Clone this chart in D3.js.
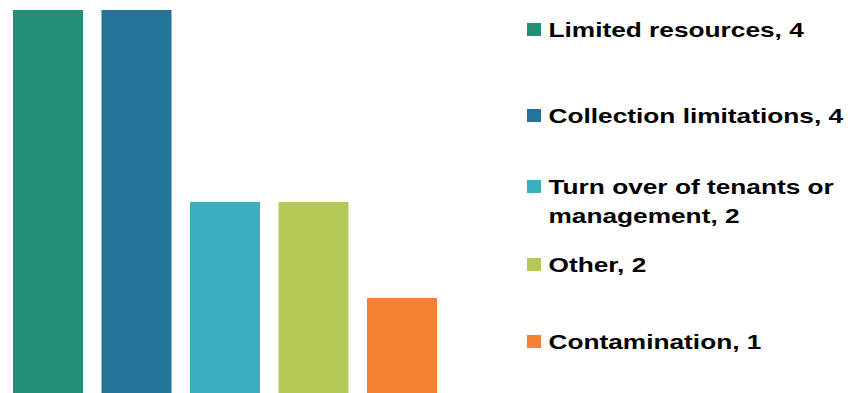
<!DOCTYPE html>
<html lang="en">
<head>
    <meta charset="UTF-8">
    <script src="https://d3js.org/d3.v7.min.js"></script>
    <title>Barriers</title>
    <style>
      body { margin: 0; background: #fff; }
      svg { display: block; }
      .legend text { font-family: "Liberation Sans", Arial, sans-serif; font-weight: bold; font-size: 21px; fill: #000; }
    </style>
</head>
<body>
    <script>
    // chart data
    var categories = ["Limited resources", "Collection limitations", "Turn over of tenants or management", "Other", "Contamination"]
    var values = [4, 4, 2, 2, 1]
    var colors = ["#238f77", "#237498", "#3aafbd", "#b3cb56", "#f58233"]
    // legend text is wrapped like the original
    var legendLines = [
        ["Limited resources, 4"],
        ["Collection limitations, 4"],
        ["Turn over of tenants or", "management, 2"],
        ["Other, 2"],
        ["Contamination, 1"]
    ]

    var width = 864, height = 393

    var svg = d3.select("body").append("svg")
        .attr("width", width)
        .attr("height", height)

    // x band scale: bars 70px wide, 88.5px step
    var x = d3.scaleBand()
        .domain(categories)
        .range([13, 437])
        .paddingInner(18.5 / 88.5)
        .paddingOuter(0)

    var y = d3.scaleLinear()
        .domain([0, 4])
        .range([394, 10])

    svg.append("g").selectAll("rect")
        .data(values)
        .enter()
        .append("rect")
        .attr("x", function (d, i) { return x(categories[i]) })
        .attr("y", function (d) { return y(d) })
        .attr("width", x.bandwidth())
        .attr("height", function (d) { return y(0) - y(d) })
        .style("fill", function (d, i) { return colors[i] })

    // legend layout (baseline of first line of each entry)
    var legendY = [37, 123, 194, 272, 349]
    var lineH = 29

    var legend = svg.append("g").attr("class", "legend")
    var items = legend.selectAll("g")
        .data(legendLines)
        .enter()
        .append("g")
        .attr("transform", function (d, i) { return "translate(0," + legendY[i] + ")" })

    items.append("rect")
        .attr("x", 527)
        .attr("y", -14)
        .attr("width", 14)
        .attr("height", 13)
        .style("fill", function (d, i) { return colors[i] })

    items.append("text")
        .attr("transform", "translate(548.5,0) scale(1.25,1)")
        .selectAll("tspan")
        .data(function (d) { return d })
        .enter()
        .append("tspan")
        .attr("x", 0)
        .attr("y", function (d, j) { return j * lineH })
        .text(function (d) { return d })
    </script>
</body>
</html>
